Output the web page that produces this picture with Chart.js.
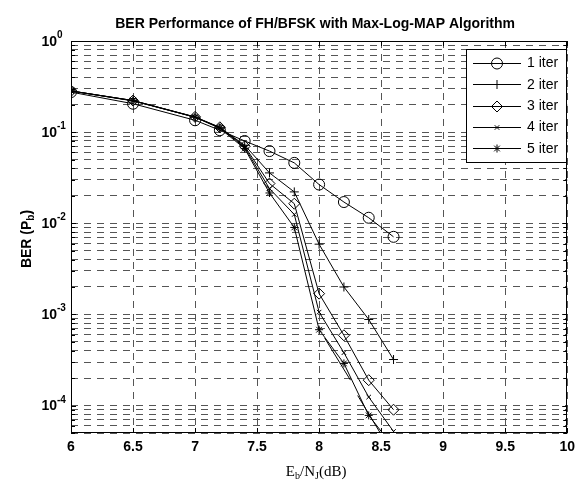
<!DOCTYPE html>
<html>
<head>
<meta charset="utf-8">
<script src="https://cdn.jsdelivr.net/npm/chart.js@4.4.1/dist/chart.umd.min.js"></script>
<style>
  html, body { margin: 0; padding: 0; background: #fff; }
  #wrap { width: 581px; height: 480px; position: relative; }
</style>
</head>
<body>
<div id="wrap"><canvas id="c" width="581" height="480"></canvas></div>
<script>
// ---- data ----
const ebnj = [6, 6.5, 7, 7.2, 7.4, 7.6, 7.8, 8, 8.2, 8.4, 8.6];
const iter1 = [0.275, 0.205, 0.135, 0.105, 0.080, 0.062, 0.046, 0.0266, 0.0171, 0.0115, 0.0071];
const iter2 = [0.283, 0.220, 0.146, 0.112, 0.072, 0.0357, 0.0221, 0.0059, 0.0020, 0.00088, 0.00032];
const iter3 = [0.283, 0.222, 0.147, 0.113, 0.070, 0.0273, 0.0164, 0.00169, 0.00059, 0.00019, 0.00009];
const iter4 = [0.283, 0.222, 0.146, 0.112, 0.068, 0.0240, 0.0125, 0.00106, 0.00038, 0.000124, 0.000052];
const iter5 = [0.283, 0.222, 0.146, 0.110, 0.066, 0.0215, 0.0090, 0.00068, 0.00029, 0.000078, 0.000035];
// unlabeled broken line segments (no markers) seen below the 5-iter curve
const extraX = [8.045, 8.253, 8.28, 8.311, 8.497];
const extraY = [0.00055, 0.00019, null, 0.000129, 0.000049];
const seriesNames = ['1 iter', '2 iter', '3 iter', '4 iter', '5 iter'];
const xTicks = [6, 6.5, 7, 7.5, 8, 8.5, 9, 9.5, 10];
const yDecades = [-5, -4, -3, -2, -1, 0];
const titleText = 'BER Performance of FH/BFSK with Max-Log-MAP Algorithm';

const markers = [
  { style: 'circle', r: 5.5 },
  { style: 'cross', r: 4.5 },
  { style: 'rectRot', r: 5.5 },
  { style: 'crossRot', r: 3.2 },
  { style: 'star', r: 4 }
];
const allSeries = [iter1, iter2, iter3, iter4, iter5];

const datasets = allSeries.map((s, i) => ({
  label: seriesNames[i],
  data: s.map((v, j) => ({ x: ebnj[j], y: v })),
  borderColor: '#000',
  borderWidth: 1,
  backgroundColor: 'rgba(0,0,0,0)',
  pointStyle: markers[i].style,
  pointRadius: markers[i].r,
  pointHoverRadius: markers[i].r,
  pointBorderColor: '#000',
  pointBackgroundColor: 'rgba(0,0,0,0)',
  pointBorderWidth: 1,
  tension: 0,
  fill: false
}));
datasets.push({
  label: '',
  isExtra: true,
  data: extraX.map((x, j) => ({ x, y: extraY[j] })),
  borderColor: '#000',
  borderWidth: 1,
  pointRadius: 0,
  spanGaps: false,
  tension: 0,
  fill: false
});

const SANS = '"Liberation Sans", Arial, Helvetica, sans-serif';
const SERIF = '"Liberation Serif", "Times New Roman", serif';
const GRID = '#555';
const DASH = [7, 6];

const decorPlugin = {
  id: 'decor',
  afterDatasetsDraw(chart) {
    const ctx = chart.ctx;
    const a = chart.chartArea;
    const xs = chart.scales.x, ys = chart.scales.y;
    ctx.save();
    // box
    ctx.strokeStyle = '#000';
    ctx.lineWidth = 1;
    ctx.setLineDash([]);
    ctx.strokeRect(Math.round(a.left) + 0.5, Math.round(a.top) + 0.5,
                   Math.round(a.right - a.left) - 1, Math.round(a.bottom - a.top) - 1);
    // x ticks (bottom & top, inward)
    ctx.beginPath();
    xTicks.forEach(v => {
      const px = Math.round(xs.getPixelForValue(v)) + 0.5;
      ctx.moveTo(px, a.bottom); ctx.lineTo(px, a.bottom - 5);
      ctx.moveTo(px, a.top); ctx.lineTo(px, a.top + 5);
    });
    // y ticks (left & right, inward)
    ys.ticks.forEach(t => {
      const py = Math.round(ys.getPixelForValue(t.value)) + 0.5;
      const len = t.major ? 5 : 4;
      ctx.moveTo(a.left, py); ctx.lineTo(a.left + len, py);
      ctx.moveTo(a.right, py); ctx.lineTo(a.right - len, py);
    });
    ctx.stroke();

    // legend
    const lx = 466, ly = 49, lw = 100, lh = 113;
    ctx.fillStyle = '#fff';
    ctx.fillRect(lx, ly, lw, lh);
    ctx.strokeRect(lx + 0.5, ly + 0.5, lw, lh);
    chart.data.datasets.filter(d => !d.isExtra).forEach((ds, i) => {
      const cy = 63 + i * 21.3;
      ctx.beginPath();
      ctx.moveTo(473, Math.round(cy) + 0.5);
      ctx.lineTo(521, Math.round(cy) + 0.5);
      ctx.stroke();
      ctx.fillStyle = 'rgba(0,0,0,0)';
      ctx.strokeStyle = '#000';
      ctx.lineWidth = 1;
      Chart.helpers.drawPoint(ctx, { pointStyle: ds.pointStyle, radius: ds.pointRadius, borderWidth: 1, rotation: 0 }, 497, Math.round(cy) + 0.5);
      ctx.fillStyle = '#000';
      ctx.font = '14px ' + SANS;
      ctx.textAlign = 'left';
      ctx.textBaseline = 'middle';
      ctx.fillText(ds.label, 527, cy + 0.5);
    });

    // y tick labels (powers of ten)
    ctx.fillStyle = '#000';
    yDecades.forEach(e => {
      const v = Math.pow(10, e);
      if (v < ys.min * 0.999 || v > ys.max * 1.001) return;
      const py = ys.getPixelForValue(v);
      ctx.font = 'bold 14px ' + SANS;
      ctx.textAlign = 'right';
      ctx.textBaseline = 'middle';
      ctx.fillText('10', 57, py + 1);
      ctx.font = 'bold 10px ' + SANS;
      ctx.textAlign = 'left';
      ctx.textBaseline = 'alphabetic';
      ctx.fillText(e === 0 ? '0' : '-' + Math.abs(e), 57, py - 3);
    });

    // title
    ctx.font = 'bold 14px ' + SANS;
    ctx.textAlign = 'center';
    ctx.textBaseline = 'middle';
    ctx.fillText(titleText, (a.left + a.right) / 2 - 4, 24);

    // x axis title: E_b/N_J(dB)
    const parts = [
      { t: 'E', f: '15px ' + SERIF, dy: 0 },
      { t: 'b', f: '10px ' + SERIF, dy: 3 },
      { t: '/N', f: '15px ' + SERIF, dy: 0 },
      { t: 'J', f: '10px ' + SERIF, dy: 3 },
      { t: '(dB)', f: '15px ' + SERIF, dy: 0 }
    ];
    let tw = 0;
    parts.forEach(p => { ctx.font = p.f; p.w = ctx.measureText(p.t).width; tw += p.w; });
    let cx = (a.left + a.right) / 2 - tw / 2 - 3;
    ctx.textAlign = 'left';
    ctx.textBaseline = 'alphabetic';
    parts.forEach(p => { ctx.font = p.f; ctx.fillText(p.t, cx, 476 + p.dy); cx += p.w; });

    // y axis title: BER (P_b)
    ctx.save();
    ctx.translate(30.5, (a.top + a.bottom) / 2 + 2);
    ctx.rotate(-Math.PI / 2);
    const yparts = [
      { t: 'BER (P', f: 'bold 14px ' + SANS, dy: 0 },
      { t: 'b', f: 'bold 10px ' + SANS, dy: 3 },
      { t: ')', f: 'bold 14px ' + SANS, dy: 0 }
    ];
    let yw = 0;
    yparts.forEach(p => { ctx.font = p.f; p.w = ctx.measureText(p.t).width; yw += p.w; });
    let yx = -yw / 2;
    yparts.forEach(p => { ctx.font = p.f; ctx.fillText(p.t, yx, p.dy); yx += p.w; });
    ctx.restore();

    ctx.restore();
  }
};

new Chart(document.getElementById('c'), {
  type: 'line',
  data: { datasets },
  options: {
    responsive: false,
    animation: false,
    events: [],
    layout: { padding: { left: 0, right: 9, top: 41, bottom: 0 } },
    plugins: { legend: { display: false }, title: { display: false }, tooltip: { enabled: false } },
    scales: {
      x: {
        type: 'linear',
        min: 6, max: 10,
        afterBuildTicks: s => { s.ticks = xTicks.map(v => ({ value: v })); },
        afterFit: s => { s.height = 47; },
        ticks: {
          color: '#000', font: { family: SANS, size: 14, weight: 'bold' }, padding: 6,
          maxRotation: 0, autoSkip: false,
          callback: v => String(Number(v))
        },
        grid: { color: GRID, lineWidth: 1, drawTicks: false },
        border: { display: false, dash: DASH }
      },
      y: {
        type: 'logarithmic',
        min: 5e-5, max: 1,
        afterBuildTicks: s => {
          const t = [];
          for (let e = -5; e <= 0; e++) {
            for (let k = 1; k <= 9; k++) {
              const v = k * Math.pow(10, e);
              if (v >= 5e-5 * 0.999 && v <= 1.0001) t.push({ value: v, major: k === 1 });
              if (e === 0) break;
            }
          }
          s.ticks = t;
        },
        afterFit: s => { s.width = 71; },
        ticks: { display: false },
        grid: { color: GRID, lineWidth: 1, drawTicks: false },
        border: { display: false, dash: DASH }
      }
    }
  },
  plugins: [decorPlugin]
});
</script>
</body>
</html>
